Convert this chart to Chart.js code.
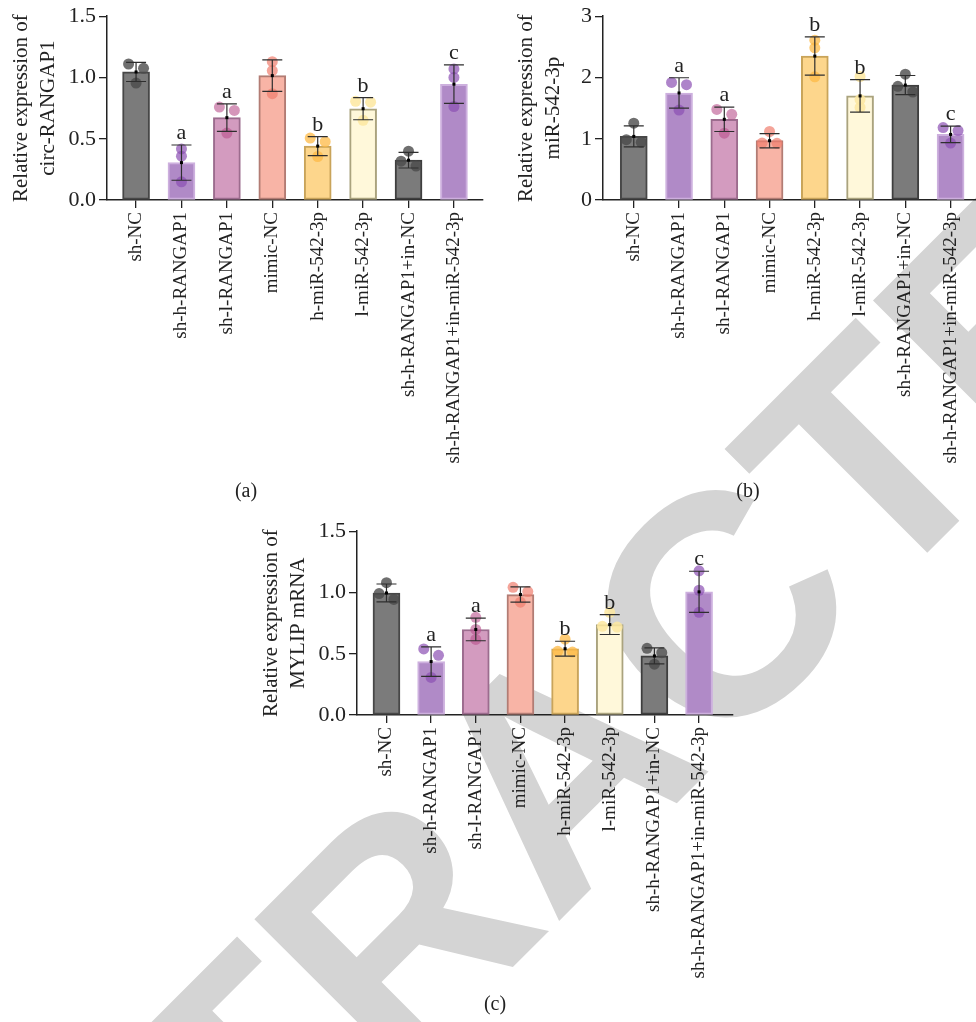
<!DOCTYPE html>
<html>
<head>
<meta charset="utf-8">
<script src="https://cdn.jsdelivr.net/npm/chart.js@4.4.1/dist/chart.umd.min.js"></script>
<style>
  body { margin: 0; background: #fff; width: 976px; height: 1022px; overflow: hidden; position: relative; font-family: "Liberation Serif", serif; }
  canvas { position: absolute; }
  #wm { left: 0; top: 0; z-index: 0; }
  .chart { z-index: 1; }
  .panel { position: absolute; font-size: 20px; line-height: 24px; color: #222; transform: translateX(-50%); z-index: 2; }
</style>
</head>
<body>
<canvas id="wm" width="976" height="1022"></canvas>
<canvas id="chartA" class="chart" width="490" height="480" style="left:0;top:0"></canvas>
<canvas id="chartB" class="chart" width="500" height="480" style="left:490px;top:0"></canvas>
<canvas id="chartC" class="chart" width="490" height="480" style="left:250px;top:515px"></canvas>
<div class="panel" style="left:246px;top:478px">(a)</div>
<div class="panel" style="left:748px;top:478px">(b)</div>
<div class="panel" style="left:495px;top:991px">(c)</div>
<script>
const groups = ['sh-NC', 'sh-h-RANGAP1', 'sh-l-RANGAP1', 'mimic-NC', 'h-miR-542-3p',
  'l-miR-542-3p', 'sh-h-RANGAP1+in-NC', 'sh-h-RANGAP1+in-miR-542-3p'];
const sigLetters = ['', 'a', 'a', '', 'b', 'b', '', 'c'];

// (a) circ-RANGAP1
const circMean = [1.045, 0.305, 0.672, 1.015, 0.440, 0.745, 0.325, 0.945];
const circSd = [0.078, 0.144, 0.112, 0.129, 0.078, 0.090, 0.064, 0.157];
const circDots = [[1.11, 0.954, 1.075], [0.417, 0.358, 0.148], [0.758, 0.546, 0.731], [1.129, 1.056, 0.868],
  [0.505, 0.355, 0.476], [0.806, 0.650, 0.798], [0.277, 0.398, 0.317], [1.07, 1.0, 0.763]];
const circTicks = [0, 0.5, 1.0, 1.5];

// (b) miR-542-3p
const mirMean = [1.038, 1.747, 1.317, 0.968, 2.349, 1.699, 1.876, 1.070];
const mirSd = [0.172, 0.248, 0.199, 0.116, 0.312, 0.266, 0.156, 0.135];
const mirDots = [[1.253, 0.984, 0.941], [1.919, 1.882, 1.468], [1.478, 1.398, 1.091], [1.118, 0.930, 0.925],
  [2.608, 2.484, 2.011], [2.016, 1.640, 1.511], [2.054, 1.855, 1.763], [1.183, 1.134, 0.930]];
const mirTicks = [0, 1, 2, 3];

// (c) MYLIP mRNA
const mylipMean = [0.996, 0.436, 0.698, 0.983, 0.541, 0.738, 0.482, 1.005];
const mylipSd = [0.073, 0.120, 0.092, 0.062, 0.061, 0.081, 0.065, 0.168];
const mylipDots = [[1.08, 0.991, 0.943], [0.539, 0.487, 0.307], [0.797, 0.698, 0.617], [1.042, 1.007, 0.921],
  [0.619, 0.520, 0.514], [0.838, 0.724, 0.718], [0.544, 0.509, 0.415], [1.177, 1.018, 0.838]];
const mylipTicks = [0, 0.5, 1.0, 1.5];

const barFill = ['#7b7b7b', '#b08ac7', '#d39bbf', '#f8b4a6', '#fdd68c', '#fff8da', '#7b7b7b', '#b08ac7'];
const barLine = ['#474747', '#cdb0de', '#9c6c8e', '#b27c74', '#c9a45a', '#aaa37e', '#3e3e3e', '#cdb0de'];
const dotColor = ['rgba(75,75,75,0.8)', 'rgba(140,80,180,0.7)', 'rgba(185,80,140,0.6)', 'rgba(240,125,110,0.7)',
  'rgba(253,185,70,0.75)', 'rgba(253,232,160,0.85)', 'rgba(75,75,75,0.8)', 'rgba(140,80,180,0.7)'];

Chart.defaults.font.family = '"Liberation Serif", serif';
Chart.defaults.color = '#222';

// draw the watermark behind the charts
const wm = document.getElementById('wm').getContext('2d');
wm.save();
wm.translate(634, 846);
wm.rotate(-Math.PI / 4);
wm.font = 'bold 315px "Liberation Sans"';
wm.fillStyle = '#d4d4d4';
wm.textAlign = 'center';
wm.fillText('RETRACTED', 0, 0);
wm.restore();

// dots close together get pushed to the sides, like prism does
function placeDots(dots, yMax) {
  const thr = 6.8 * yMax / 186;
  const pts = [], cols = [];
  dots.forEach((vals, i) => {
    const s = vals.slice().sort((a, b) => b - a);
    const offs = s.map(() => 0);
    const used = s.map(() => false);
    for (let k = 0; k < s.length - 1; k++) {
      if (!used[k] && s[k] - s[k + 1] < thr) {
        offs[k] = -0.165; offs[k + 1] = 0.165;
        used[k] = used[k + 1] = true;
      }
    }
    s.forEach((v, k) => { pts.push({x: i + offs[k], y: v}); cols.push(dotColor[i]); });
  });
  return {pts, cols};
}

function errorBars(mean, sd) {
  return {
    id: 'errorBars',
    afterDatasetsDraw(chart) {
      const {ctx, scales: {x, y}} = chart;
      ctx.save();
      mean.forEach((m, i) => {
        const cx = x.getPixelForValue(i);
        const top = y.getPixelForValue(m + sd[i]);
        const bot = y.getPixelForValue(m - sd[i]);
        ctx.strokeStyle = '#2e2e2e';
        ctx.lineWidth = 1.2;
        ctx.beginPath();
        ctx.moveTo(cx, top); ctx.lineTo(cx, bot);
        ctx.moveTo(cx - 10, top); ctx.lineTo(cx + 10, top);
        ctx.moveTo(cx - 10, bot); ctx.lineTo(cx + 10, bot);
        ctx.stroke();
        ctx.fillStyle = '#000';
        ctx.fillRect(cx - 1.5, y.getPixelForValue(m) - 1.5, 3, 3);
        if (sigLetters[i]) {
          ctx.font = '22px "Liberation Serif"';
          ctx.fillStyle = '#222';
          ctx.textAlign = 'center';
          ctx.textBaseline = 'alphabetic';
          ctx.fillText(sigLetters[i], cx, top - 6);
        }
      });
      ctx.restore();
    }
  };
}

function makeChart(id, cfg) {
  const yMax = cfg.ticks[cfg.ticks.length - 1];
  const d = placeDots(cfg.dots, yMax);
  new Chart(document.getElementById(id), {
    type: 'bar',
    data: {
      datasets: [
        {
          type: 'scatter',
          data: d.pts,
          pointBackgroundColor: d.cols,
          pointBorderWidth: 0,
          pointRadius: 5.5,
          order: 0
        },
        {
          type: 'bar',
          data: cfg.mean.map((v, i) => ({x: i, y: v})),
          backgroundColor: barFill,
          borderColor: barLine,
          borderWidth: 2,
          borderSkipped: false,
          barThickness: 27,
          order: 1
        }
      ]
    },
    options: {
      responsive: false,
      animation: false,
      layout: {padding: {top: 14, bottom: 10, left: 0, right: cfg.padRight}},
      plugins: {legend: {display: false}, tooltip: {enabled: false}},
      scales: {
        x: {
          type: 'linear',
          offset: false,
          min: cfg.xMin,
          max: cfg.xMax,
          afterBuildTicks: s => { s.ticks = groups.map((g, i) => ({value: i})); },
          afterFit: s => { s.height = 270; },
          ticks: {
            autoSkip: false,
            minRotation: 90,
            maxRotation: 90,
            padding: 4,
            font: {size: 19},
            color: '#222',
            callback: v => groups[v]
          },
          grid: {offset: false, drawOnChartArea: false, drawTicks: true, tickLength: 8, color: '#222', lineWidth: 1.3},
          border: {color: '#222', width: 1.5}
        },
        y: {
          min: 0,
          max: yMax,
          afterBuildTicks: s => { s.ticks = cfg.ticks.map(v => ({value: v})); },
          afterFit: s => { s.width = cfg.axisW; },
          ticks: {
            padding: 3,
            font: {size: 22},
            color: '#222',
            callback: v => v.toFixed(cfg.dec)
          },
          grid: {drawOnChartArea: false, drawTicks: true, tickLength: 8, color: '#222', lineWidth: 1.3},
          border: {color: '#222', width: 1.5},
          title: {
            display: true,
            text: cfg.title,
            font: {size: 21, lineHeight: 1.3},
            color: '#222',
            padding: {top: cfg.titlePad, bottom: 0}
          }
        }
      }
    },
    plugins: [errorBars(cfg.mean, cfg.sd)]
  });
}

makeChart('chartA', {
  mean: circMean, sd: circSd, dots: circDots, ticks: circTicks, dec: 1,
  title: ['Relative expression of', 'circ-RANGAP1'],
  axisW: 107, titlePad: 8, xMin: -0.64, xMax: 7.64, padRight: 7
});
makeChart('chartB', {
  mean: mirMean, sd: mirSd, dots: mirDots, ticks: mirTicks, dec: 0,
  title: ['Relative expression of', 'miR-542-3p'],
  axisW: 113, titlePad: 23, xMin: -0.68, xMax: 7.65, padRight: 10
});
makeChart('chartC', {
  mean: mylipMean, sd: mylipSd, dots: mylipDots, ticks: mylipTicks, dec: 1,
  title: ['Relative expression of', 'MYLIP mRNA'],
  axisW: 107, titlePad: 8, xMin: -0.66, xMax: 7.76, padRight: 7
});
</script>
</body>
</html>
